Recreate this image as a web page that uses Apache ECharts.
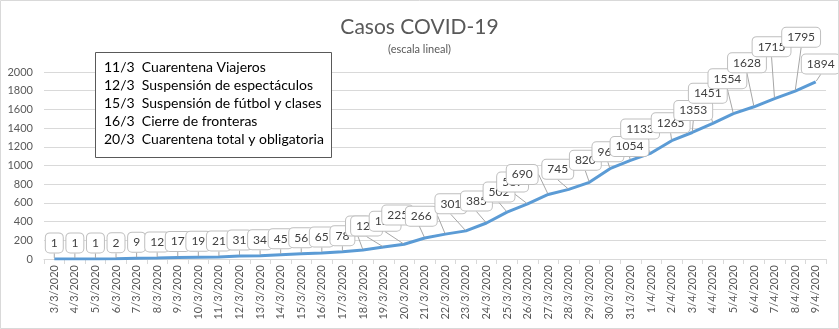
<!DOCTYPE html>
<html>
<head>
<meta charset="utf-8">
<script src="https://cdn.jsdelivr.net/npm/echarts@6/dist/echarts.min.js"></script>
<style>
html,body{margin:0;padding:0;background:#fff;}
#chart{width:839px;height:329px;}
</style>
</head>
<body>
<div id="chart"></div>
<script>
const categories = ['3/3/2020','4/3/2020','5/3/2020','6/3/2020','7/3/2020','8/3/2020','9/3/2020','10/3/2020','11/3/2020','12/3/2020','13/3/2020','14/3/2020','15/3/2020','16/3/2020','17/3/2020','18/3/2020','19/3/2020','20/3/2020','21/3/2020','22/3/2020','23/3/2020','24/3/2020','25/3/2020','26/3/2020','27/3/2020','28/3/2020','29/3/2020','30/3/2020','31/3/2020','1/4/2020','2/4/2020','3/4/2020','4/4/2020','5/4/2020','6/4/2020','7/4/2020','8/4/2020','9/4/2020'];
const casos = [1,1,1,2,9,12,17,19,21,31,34,45,56,65,78,97,128,158,225,266,301,385,502,589,690,745,820,966,1054,1133,1265,1353,1451,1554,1628,1715,1795,1894];
const notes = ['11/3  Cuarentena Viajeros','12/3  Suspensión de espectáculos','15/3  Suspensión de fútbol y clases','16/3  Cierre de fronteras','20/3  Cuarentena total y obligatoria'];
const yTicks = {min: 0, max: 2000, interval: 200};

// callout offsets (label placement, px) as in the original callouts
const labelShiftX = [0,0,0,0,0,0,0,0,0,0,0,0,0,0,0,-5,-17,-19,-27,-24,-15,-10,-8,-15,-26,-11,-4,-2,-1,-11,-1,1,-5,-6,-7,-3,6,5];
const labelShiftY = [-16,-16,-16,-16,-16,-16,-16,-16,-16,-16,-16,-16,-16,-16,-16,-24,-21,-23,-23,-18,-27,-22,-20,-22,-20,-20,-22,-17,-14,-24,-18,-22,-30,-35,-44,-52,-54,-18];

const chart = echarts.init(document.getElementById('chart'));
const FONT = 'Lato, "Open Sans", sans-serif';
chart.setOption({
  animation: false,
  title: {
    text: 'Casos COVID-19',
    subtext: '(escala lineal)',
    left: 'center',
    top: 12,
    itemGap: 6,
    textStyle: {fontFamily: FONT, fontSize: 21, fontWeight: 'normal', color: '#595959'},
    subtextStyle: {fontFamily: FONT, fontSize: 11, color: '#595959'}
  },
  grid: {left: 44, right: 13, top: 72, bottom: 70, containLabel: false},
  xAxis: {
    type: 'category',
    data: categories,
    boundaryGap: true,
    axisLine: {lineStyle: {color: '#d9d9d9'}},
    axisTick: {show: true, length: 5, lineStyle: {color: '#d9d9d9'}},
    axisLabel: {rotate: 90, interval: 0, fontSize: 11, color: '#595959', fontFamily: FONT, margin: 6}
  },
  yAxis: {
    type: 'value',
    min: yTicks.min, max: yTicks.max, interval: yTicks.interval,
    axisLine: {show: false},
    axisTick: {show: false},
    splitLine: {lineStyle: {color: '#d9d9d9'}},
    axisLabel: {fontSize: 11, color: '#595959', fontFamily: FONT, margin: 11, formatter: v => String(v)}
  },
  series: [{
    type: 'line',
    data: casos,
    showSymbol: true,
    symbol: 'circle',
    symbolSize: 2,
    itemStyle: {color: 'rgba(0,0,0,0)'},
    lineStyle: {color: '#5b9bd5', width: 3},
    label: {
      show: true,
      position: 'inside',
      fontFamily: FONT,
      fontSize: 12,
      color: '#404040',
      opacity: 1,
      backgroundColor: '#ffffff',
      borderColor: '#bfbfbf',
      borderWidth: 1,
      borderRadius: 4,
      padding: [4, 5, 3, 5]
    },
    labelLine: {show: true, lineStyle: {color: '#a6a6a6', width: 1}},
    labelLayout: function (p) {
      return {dx: labelShiftX[p.dataIndex], dy: labelShiftY[p.dataIndex]};
    }
  }],
  graphic: [
    {type: 'rect', shape: {x: 0.5, y: 0.5, width: 838, height: 328}, style: {fill: 'none', stroke: '#d9d9d9', lineWidth: 1}, z: 100},
    {type: 'rect', shape: {x: 95.5, y: 52.5, width: 236, height: 105}, style: {fill: '#ffffff', stroke: '#595959', lineWidth: 1}, z: 50},
    {type: 'text', left: 104, top: 58, z: 51,
     style: {text: notes.join('\n'), fontFamily: FONT, fontSize: 14, lineHeight: 18, fill: '#000000'}}
  ]
});
</script>
</body>
</html>
